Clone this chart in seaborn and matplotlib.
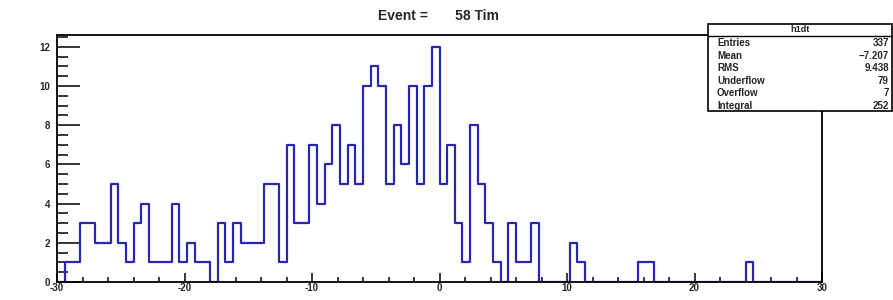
import numpy as np
import pandas as pd
import matplotlib
matplotlib.use("Agg")
import matplotlib.pyplot as plt
import seaborn as sns
from matplotlib.patches import Rectangle
from matplotlib.lines import Line2D
from matplotlib.ticker import MultipleLocator

# --- DATA ---
X_MIN, X_MAX, N_BINS = -30, 30, 100
COUNTS = [0, 1, 1, 3, 3, 2, 2, 5, 2, 1,
          3, 4, 1, 1, 1, 4, 1, 2, 1, 1,
          0, 3, 1, 3, 2, 2, 2, 5, 5, 1,
          7, 3, 3, 7, 4, 6, 8, 5, 7, 5,
          10, 11, 10, 5, 8, 6, 10, 5, 10, 12,
          5, 7, 3, 1, 8, 5, 3, 1, 0, 3,
          1, 1, 3, 0, 0, 0, 0, 2, 1, 0,
          0, 0, 0, 0, 0, 0, 1, 1, 0, 0,
          0, 0, 0, 0, 0, 0, 0, 0, 0, 0,
          1, 0, 0, 0, 0, 0, 0, 0, 0, 0]
HIST_NAME = "h1dt"
STAT_NAMES = ["Entries", "Mean", "RMS", "Underflow", "Overflow", "Integral"]
STAT_VALUES = ["337", "\u22127.207", "9.438", "79", "7", "252"]
TITLE = "Event =       58 Tim"
X_TICKS = [-30, -20, -10, 0, 10, 20, 30]
Y_TICKS = [0, 2, 4, 6, 8, 10, 12]
Y_MAX = 12.6

W, H = 893, 300
LINE_COLOR = "#2626b0"
FONT = "Liberation Sans"

sns.set_style("ticks")
plt.rcParams['font.family'] = [FONT, 'DejaVu Sans']

edges = np.linspace(X_MIN, X_MAX, N_BINS + 1)
df = pd.DataFrame({"x": (edges[:-1] + edges[1:]) / 2, "n": COUNTS})

fig = plt.figure(figsize=(W / 100, H / 100), dpi=100)
ax = fig.add_axes([57 / W, 18 / H, (822 - 57) / W, (282 - 35) / H])

sns.histplot(data=df, x="x", weights="n", bins=edges.tolist(), element="step",
             fill=False, color=LINE_COLOR, linewidth=1.6, ax=ax)

ax.set_xlim(X_MIN, X_MAX)
ax.set_ylim(0, Y_MAX)
ax.set_xlabel("")
ax.set_ylabel("")
ax.set_xticks(X_TICKS)
ax.set_yticks(Y_TICKS)
ax.xaxis.set_minor_locator(MultipleLocator(2))
ax.yaxis.set_minor_locator(MultipleLocator(0.5))
ax.set_xticklabels([str(t) for t in X_TICKS], fontsize=7, fontweight="bold")
ax.set_yticklabels([str(t) for t in Y_TICKS], fontsize=7, fontweight="bold")
ax.tick_params(axis="y", which="major", direction="in", length=16.5, width=1.3, pad=5)
ax.tick_params(axis="y", which="minor", direction="in", length=8, width=1.3)
ax.tick_params(axis="x", which="major", direction="in", length=6.5, width=1.3, pad=1)
ax.tick_params(axis="x", which="minor", direction="in", length=3.6, width=1.3)
for s in ax.spines.values():
    s.set_linewidth(1.3)
    s.set_color("black")

# title
fig.text(438 / W, 1 - 16 / H, TITLE, ha="center", va="center",
         fontsize=10, fontweight="bold")

# stats box
bx0, bx1, by0, by1 = 708, 892, 24, 111
fig.add_artist(Rectangle((bx0 / W, 1 - by1 / H), (bx1 - bx0) / W, (by1 - by0) / H,
                         transform=fig.transFigure, facecolor="white",
                         edgecolor="black", linewidth=1.2, zorder=5))
fig.add_artist(Line2D([bx0 / W, bx1 / W], [1 - 36 / H, 1 - 36 / H],
                      transform=fig.transFigure, color="black", linewidth=1.0, zorder=6))
fig.text((bx0 + bx1) / 2 / W, 1 - 30 / H, HIST_NAME, ha="center", va="center",
         fontsize=6.5, fontweight="bold", zorder=7)
for i, (name, val) in enumerate(zip(STAT_NAMES, STAT_VALUES)):
    yy = 1 - (43.5 + i * 12.5) / H
    fig.text(717 / W, yy, name, ha="left", va="center", fontsize=7,
             fontweight="bold", zorder=7)
    fig.text(889 / W, yy, val, ha="right", va="center", fontsize=7,
             fontweight="bold", zorder=7)

fig.savefig("out.png", dpi=100)
